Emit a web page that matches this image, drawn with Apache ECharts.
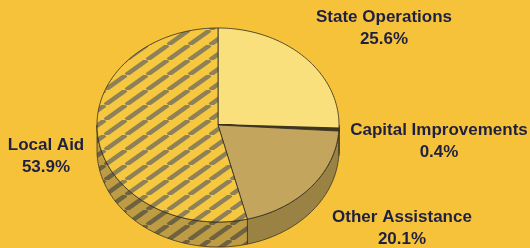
<!DOCTYPE html>
<html><head><meta charset="utf-8">
<script src="https://cdn.jsdelivr.net/npm/echarts@6/dist/echarts.min.js"></script>
<style>html,body{margin:0;padding:0;background:#F6C23A;}#c{width:530px;height:248px;}</style>
</head><body><div id="c"></div>
<script>
// ---- data ----
const categories = ['State Operations', 'Capital Improvements', 'Other Assistance', 'Local Aid'];
const values = [25.6, 0.4, 20.1, 53.9];
const valueLabels = ['25.6%', '0.4%', '20.1%', '53.9%'];

// ---- layout / style ----
const BG = '#F6C23A';
const geo = { cx: 218, cy: 125, rx: 121, ry: 97, depth: 25 };
const labelOffset = { 'State Operations': [166, -97], 'Capital Improvements': [221, 16], 'Other Assistance': [184, 103], 'Local Aid': [-172, 31] };

function hatch(base, stripe, w, h, lw) {
  const c = document.createElement('canvas');
  c.width = w; c.height = h;
  const g = c.getContext('2d');
  g.fillStyle = base; g.fillRect(0, 0, w, h);
  g.strokeStyle = stripe; g.lineWidth = lw;
  for (const o of [-w, 0, w]) {
    g.beginPath(); g.moveTo(o, h); g.lineTo(o + w, 0); g.stroke();
  }
  return { image: c, repeat: 'repeat' };
}
const topFill = ['#FAE07C', '#3E3520', '#C3A55E', hatch('#F6C840', '#8E8059', 21, 15, 4.5)];
const sideFill = ['#C9B050', '#3E3520', '#9A8244', hatch('#BE9C44', '#6E6240', 21, 15, 4.5)];

const total = values.reduce((a, b) => a + b, 0);
const starts = []; let acc = 0;
values.forEach(v => { starts.push(acc / total * 360); acc += v; });
const ends = values.map((v, i) => starts[i] + v / total * 360);

function pt(a, dy) {
  const r = a * Math.PI / 180;
  return [geo.cx + geo.rx * Math.sin(r), geo.cy - geo.ry * Math.cos(r) + (dy || 0)];
}
function arc(a0, a1, dy) {
  const n = Math.max(2, Math.ceil((a1 - a0) / 1));
  const p = [];
  for (let k = 0; k <= n; k++) p.push(pt(a0 + (a1 - a0) * k / n, dy));
  return p;
}

function renderSide(params) {
  const i = params.dataIndex;
  const a0 = Math.max(starts[i], 90), a1 = Math.min(ends[i], 270);
  if (a1 <= a0) return { type: 'group', children: [] };
  const top = arc(a0, a1, 0), bot = arc(a0, a1, geo.depth).reverse();
  return {
    type: 'polygon', shape: { points: top.concat(bot) },
    style: { fill: sideFill[i], stroke: '#3a3320', lineWidth: 0.8 }
  };
}
function renderTop(params) {
  const i = params.dataIndex;
  const pts = [[geo.cx, geo.cy]].concat(arc(starts[i], ends[i], 0));
  return {
    type: 'polygon', shape: { points: pts },
    style: { fill: topFill[i], stroke: i === 1 ? '#3E3520' : '#2d2a22', lineWidth: i === 1 ? 2.2 : 0.8 }
  };
}

const graphic = categories.map((c, i) => ({
  type: 'text', x: geo.cx + labelOffset[c][0], y: geo.cy + labelOffset[c][1],
  style: {
    text: c + '\n' + valueLabels[i], fill: '#1e2042',
    font: 'bold 17px "Liberation Sans", Arial, sans-serif',
    align: 'center', verticalAlign: 'middle', lineHeight: 22
  }
}));

const chart = echarts.init(document.getElementById('c'), null, { renderer: 'canvas' });
chart.setOption({
  backgroundColor: BG,
  animation: false,
  series: [
    { type: 'custom', coordinateSystem: 'none', silent: true, z: 1, data: values, renderItem: renderSide },
    { type: 'custom', coordinateSystem: 'none', silent: true, z: 2, data: values, renderItem: renderTop }
  ],
  graphic: graphic
});
</script></body></html>
